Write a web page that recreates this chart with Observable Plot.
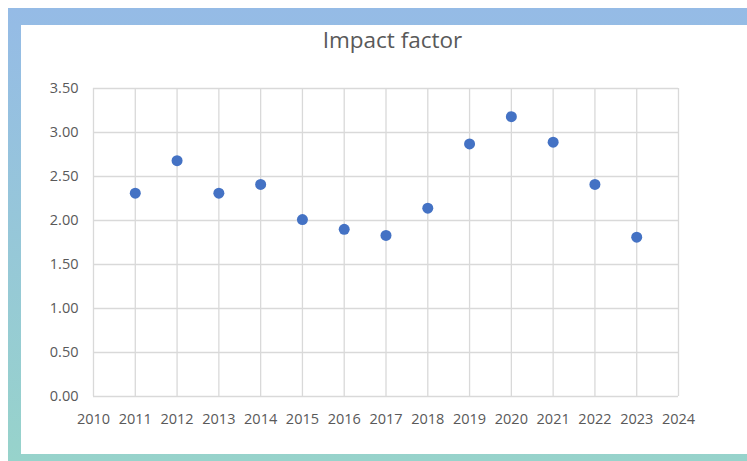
<!DOCTYPE html>
<html>
<head>
<meta charset="utf-8">
<script src="https://cdn.jsdelivr.net/npm/d3@7"></script>
<script src="https://cdn.jsdelivr.net/npm/@observablehq/plot@0.6"></script>
<style>
  html, body { margin: 0; padding: 0; background: #fff; }
  #wrap { position: relative; width: 747px; height: 461px; overflow: hidden; font-family: "Open Sans", sans-serif; }
  #frame { position: absolute; left: 8px; top: 8px; width: 739px; height: 453px;
           background: linear-gradient(to bottom, #95bbe6 0%, #97d3cb 100%); }
  #inner { position: absolute; left: 21px; top: 25px; width: 726px; height: 429px; background: #fff; }
  #title { position: absolute; left: 0; width: 785px; top: 25px; text-align: center;
           font-size: 22.5px; color: #595959; line-height: 30px; }
  #chart { position: absolute; left: 0; top: 0; }
  #chart svg { background: transparent !important; }
  #chart svg text { font-size: 14.5px; }
</style>
</head>
<body>
<div id="wrap">
  <div id="frame"></div>
  <div id="inner"></div>
  <div id="chart"></div>
  <div id="title">Impact factor</div>
</div>
<script>
const years = [2011, 2012, 2013, 2014, 2015, 2016, 2017, 2018, 2019, 2020, 2021, 2022, 2023];
const impactFactor = [2.31, 2.68, 2.31, 2.41, 2.01, 1.90, 1.83, 2.14, 2.87, 3.18, 2.89, 2.41, 1.81];
const xTicks = [2010, 2011, 2012, 2013, 2014, 2015, 2016, 2017, 2018, 2019, 2020, 2021, 2022, 2023, 2024];
const yTicks = [0, 0.5, 1, 1.5, 2, 2.5, 3, 3.5];

const data = years.map((y, i) => ({year: y, value: impactFactor[i]}));

const chart = Plot.plot({
  width: 747,
  height: 461,
  marginLeft: 93,
  marginRight: 69,
  marginTop: 88,
  marginBottom: 65,
  style: {background: "transparent", fontFamily: "'Open Sans', sans-serif", fontSize: "14px", color: "#595959"},
  x: {domain: [2010, 2024]},
  y: {domain: [0, 3.5]},
  marks: [
    Plot.gridX(xTicks, {stroke: "#d9d9d9", strokeOpacity: 1, strokeWidth: 1.3}),
    Plot.gridY(yTicks, {stroke: "#d9d9d9", strokeOpacity: 1, strokeWidth: 1.3}),
    Plot.axisX(xTicks, {tickSize: 0, tickPadding: 17, label: null, fill: "#595959", tickFormat: d => String(d)}),
    Plot.axisY(yTicks, {tickSize: 0, tickPadding: 15, label: null, fill: "#595959", tickFormat: d => d.toFixed(2)}),
    Plot.dot(data, {x: "year", y: "value", r: 5.5, fill: "#4472c4", stroke: "none"})
  ]
});
document.getElementById("chart").appendChild(chart);
</script>
</body>
</html>
